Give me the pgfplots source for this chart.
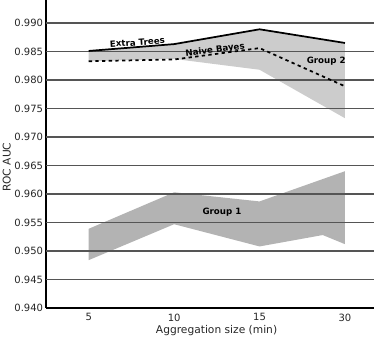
\documentclass[border=0pt]{standalone}
\usepackage{fontspec}
\setmainfont{DejaVu Sans}
\usepackage{pgfplots}
\pgfplotsset{compat=1.18}
\definecolor{gtwo}{HTML}{CCCCCC}
\definecolor{gone}{HTML}{B3B3B3}
\definecolor{gridc}{HTML}{555555}
\begin{document}
\begin{tikzpicture}
\path[use as bounding box] (-34.5pt,-22.5pt) rectangle (246pt,231pt);
\begin{axis}[
  scale only axis, width=246pt, height=231pt,
  at={(0,0)}, anchor=south west,
  xmin=-0.5, xmax=3.34, ymin=0.940, ymax=0.99404,
  axis x line*=bottom, axis y line*=left,
  axis line style={-, line width=1.6pt, black},
  xtick={0,1,2,3}, xticklabels={5,10,15,30},
  ytick={0.940,0.945,0.950,0.955,0.960,0.965,0.970,0.975,0.980,0.985,0.990},
  yticklabel style={/pgf/number format/fixed, /pgf/number format/precision=3, /pgf/number format/fixed zerofill, inner sep=2pt},
  xticklabel style={inner sep=4pt},
  /pgf/number format/assume math mode=true,
  major tick length=0pt,
  tick label style={font=\fontsize{7.5}{9}\selectfont, color=black!85},
  label style={font=\fontsize{8}{10}\selectfont, color=black!85},
  xlabel={Aggregation size (min)},
  ylabel={ROC AUC},
  xlabel style={at={(axis description cs:0.52,-0.072)}, anchor=center},
  ylabel style={at={(axis description cs:-0.12,0.457)}, anchor=center},
  clip=false,
]
\addplot[fill=gtwo, draw=none] coordinates {
 (0,0.9851) (1,0.9863) (2,0.9889) (3,0.9865) (3,0.9733) (2,0.9818) (1,0.9837) (0,0.9833)};
\addplot[fill=gone, draw=none] coordinates {
 (0,0.9539) (1,0.9603) (2,0.9587) (3,0.9640) (3,0.9512) (2.74,0.9528) (2,0.9508) (1,0.9547) (0,0.9484)};
\pgfplotsinvokeforeach{0.945,0.950,0.955,0.960,0.965,0.970,0.975,0.980,0.985,0.990}{
  \draw[gridc, line width=0.8pt] (axis cs:-0.5,#1) -- (axis cs:3.34,#1);
}
\addplot[black, line width=1.3pt] coordinates {(0,0.9851) (1,0.9863) (2,0.9889) (3,0.9865)};
\addplot[black, line width=1.3pt, dash pattern=on 2.5pt off 2.5pt] coordinates {(0,0.9833) (1,0.9836) (2,0.9856) (3,0.9789)};
\node[font=\bfseries\fontsize{6.5}{8}\selectfont, rotate=4] at (axis cs:0.57,0.9866) {Extra Trees};
\node[font=\bfseries\fontsize{6.5}{8}\selectfont, rotate=7] at (axis cs:1.48,0.98526) {Naive Bayes};
\node[font=\bfseries\fontsize{6.5}{8}\selectfont] at (axis cs:2.78,0.98333) {Group 2};
\node[font=\bfseries\fontsize{6.5}{8}\selectfont] at (axis cs:1.56,0.95684) {Group 1};
\end{axis}
\end{tikzpicture}
\end{document}
